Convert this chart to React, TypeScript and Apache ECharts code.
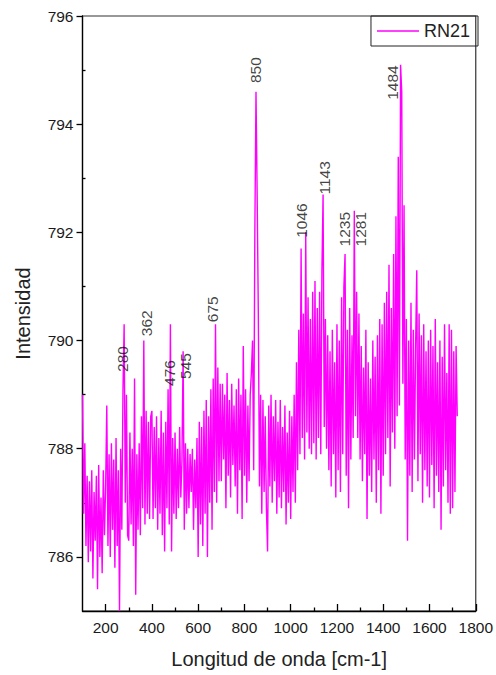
import React, { useEffect, useRef } from "react";
import * as echarts from "echarts";

const FONT = "'Liberation Sans', Arial, sans-serif";

// Raman shift grid: first point and sampling step [cm-1]
const X_START = 100;
const X_STEP = 5;

// Intensity, one row = 100 cm-1 (20 points)
const intensity: number[] = [
  // 100-195
  789.0, 786.8, 788.1, 786.2, 787.5, 785.9, 787.4, 786.1, 787.6, 785.6, 787.2, 786.3, 787.5, 785.4, 787.7, 786.0, 787.1, 785.7, 787.6, 786.4,
  // 200-295
  787.3, 788.8, 786.2, 787.9, 786.0, 788.1, 786.5, 787.8, 785.8, 788.2, 786.2, 787.6, 785.0, 788.0, 786.5, 789.1, 790.3, 787.0, 789.0, 786.4,
  // 300-395
  786.3, 788.3, 786.6, 788.0, 786.2, 789.3, 785.3, 787.9, 786.5, 788.1, 786.4, 788.6, 786.9, 790.0, 786.6, 788.7, 786.8, 788.5, 786.7, 788.6,
  // 400-495
  788.7, 786.7, 788.4, 786.9, 788.6, 786.5, 788.2, 786.8, 788.7, 786.4, 788.3, 786.1, 788.5, 786.9, 789.1, 786.6, 790.3, 786.1, 788.2, 786.8,
  // 500-595
  788.3, 786.7, 788.0, 786.9, 788.4, 787.1, 787.8, 789.8, 786.5, 788.1, 786.8, 788.0, 786.9, 787.9, 787.2, 788.0, 786.5, 787.8, 786.9, 788.2,
  // 600-695
  786.0, 788.5, 786.6, 788.4, 786.2, 788.7, 786.8, 788.9, 786.0, 788.6, 787.0, 789.1, 786.5, 789.3, 787.2, 790.3, 787.0, 789.5, 787.4, 789.2,
  // 700-795
  787.4, 789.2, 787.8, 789.0, 786.9, 789.4, 787.5, 788.9, 787.1, 789.2, 787.7, 788.8, 787.3, 789.1, 786.8, 789.3, 787.6, 789.0, 786.7, 789.9,
  // 800-895
  787.5, 789.1, 787.0, 788.8, 787.4, 789.0, 789.4, 790.0, 787.6, 792.0, 794.6, 792.7, 790.5, 787.3, 789.0, 786.8, 788.9, 787.2, 788.6, 786.9,
  // 900-995
  786.1, 788.8, 787.3, 789.0, 787.0, 788.6, 787.4, 788.9, 786.8, 788.5, 787.1, 788.9, 786.9, 788.4, 787.2, 788.8, 786.6, 788.3, 787.0, 788.7,
  // 1000-1095
  786.7, 788.6, 787.2, 789.0, 787.0, 789.6, 787.6, 790.2, 787.9, 791.7, 788.2, 790.5, 787.8, 792.0, 788.3, 790.8, 788.0, 790.4, 787.9, 790.9,
  // 1100-1195
  788.1, 791.1, 787.8, 790.6, 788.2, 790.9, 787.9, 791.3, 792.7, 788.4, 790.4, 788.0, 790.1, 787.6, 789.8, 787.3, 790.2, 787.9, 789.6, 787.1,
  // 1200-1295
  790.3, 787.6, 790.0, 787.2, 790.8, 787.9, 791.0, 791.6, 787.5, 790.2, 786.9, 790.6, 787.8, 790.1, 788.2, 792.4, 788.6, 790.9, 788.2, 790.5,
  // 1300-1395
  787.8, 789.9, 787.4, 789.5, 787.9, 790.2, 786.7, 789.6, 787.5, 789.3, 787.2, 790.0, 787.8, 789.7, 787.0, 790.1, 787.6, 790.4, 786.8, 790.3,
  // 1400-1495
  787.5, 790.7, 787.9, 790.9, 788.2, 791.4, 787.3, 790.6, 788.3, 791.6, 788.0, 792.3, 788.6, 793.4, 788.8, 795.1, 794.6, 789.2, 792.5, 787.8,
  // 1500-1595
  790.4, 786.3, 790.0, 787.5, 790.7, 787.2, 790.2, 787.8, 789.9, 791.3, 787.4, 790.5, 787.9, 790.1, 787.0, 790.3, 787.6, 789.8, 787.3, 790.0,
  // 1600-1695
  787.1, 790.2, 787.7, 789.9, 786.9, 790.4, 787.5, 789.6, 787.2, 790.0, 786.5, 789.7, 787.3, 790.3, 787.6, 789.4, 787.0, 790.3, 786.8, 790.2,
  // 1700-1720
  786.9, 789.8, 787.2, 789.9, 788.6,
];

const seriesName = "RN21";

// Peak annotations
const peakLabels = ["280", "362", "476", "545", "675", "850", "1046", "1143", "1235", "1281", "1484"];

// Tick values
const xTicks = [200, 400, 600, 800, 1000, 1200, 1400, 1600, 1800];
const xMinorTicks = [300, 500, 700, 900, 1100, 1300, 1500, 1700];
const yTicks = [786, 788, 790, 792, 794, 796];
const yMinorTicks = [787, 789, 791, 793, 795];

// Layout: anchor (x, y in data units) of the start of each rotated peak label
const labelAnchorX = [274, 375, 476, 544, 664, 847, 1048, 1144, 1232, 1301, 1440];
const labelAnchorY = [789.42, 790.08, 789.16, 789.29, 790.34, 794.76, 791.9, 792.7, 791.74, 791.74, 794.45];

export default function App() {
  const ref = useRef<HTMLDivElement>(null);

  useEffect(() => {
    if (!ref.current) return;
    const chart = echarts.init(ref.current, null, { renderer: "svg" });

    const lineData = intensity.map((v, i) => [X_START + i * X_STEP, v]);
    const labelData = peakLabels.map((t, i) => [labelAnchorX[i], labelAnchorY[i], t]);

    const tickFont = { fontSize: 15.5, fontFamily: FONT, color: "#1a1a1a" };

    chart.setOption({
      animation: false,
      grid: {
        left: 82.5,
        right: 18,
        top: 16,
        bottom: 64,
        show: true,
        borderColor: "#333",
        borderWidth: 1.2,
        backgroundColor: "transparent",
      },
      legend: {
        data: [{ name: seriesName, icon: "rect" }],
        right: 18,
        top: 16,
        padding: [6, 8, 6, 6],
        itemWidth: 42,
        itemHeight: 1.6,
        borderColor: "#222",
        borderWidth: 1,
        borderRadius: 0,
        itemStyle: { color: "#ff00ff" },
        textStyle: { fontSize: 18, fontFamily: FONT, color: "#222" },
      },
      xAxis: [
        {
          type: "value",
          min: 100,
          max: 1800,
          name: "Longitud de onda [cm-1]",
          nameLocation: "middle",
          nameGap: 38,
          nameTextStyle: { fontSize: 20, fontFamily: FONT, color: "#222" },
          axisLine: { show: true, onZero: false, lineStyle: { color: "#000", width: 1.3 } },
          axisTick: { show: true, inside: true, length: 7, customValues: xTicks, lineStyle: { color: "#000", width: 1.3 } },
          axisLabel: { ...tickFont, margin: 8, customValues: xTicks, formatter: (v: number) => String(v) },
          splitLine: { show: false },
        },
        {
          type: "value",
          min: 100,
          max: 1800,
          position: "bottom",
          axisLine: { show: false },
          axisLabel: { show: false },
          splitLine: { show: false },
          axisTick: { show: true, inside: true, length: 3.5, customValues: xMinorTicks, lineStyle: { color: "#000", width: 1.3 } },
        },
      ],
      yAxis: [
        {
          type: "value",
          min: 785,
          max: 796,
          name: "Intensidad",
          nameLocation: "middle",
          nameGap: 50,
          nameTextStyle: { fontSize: 20, fontFamily: FONT, color: "#222" },
          axisLine: { show: true, onZero: false, lineStyle: { color: "#000", width: 1.3 } },
          axisTick: { show: true, inside: false, length: 6, customValues: yTicks, lineStyle: { color: "#000", width: 1.3 } },
          axisLabel: { ...tickFont, margin: 9, customValues: yTicks, formatter: (v: number) => String(v) },
          splitLine: { show: false },
        },
        {
          type: "value",
          min: 785,
          max: 796,
          position: "left",
          axisLine: { show: false },
          axisLabel: { show: false },
          splitLine: { show: false },
          axisTick: { show: true, inside: true, length: 3, customValues: yMinorTicks, lineStyle: { color: "#000", width: 1.3 } },
        },
      ],
      series: [
        {
          name: seriesName,
          type: "line",
          xAxisIndex: 0,
          yAxisIndex: 0,
          data: lineData,
          symbol: "none",
          showSymbol: false,
          color: "#ff00ff",
          lineStyle: { color: "#ff00ff", width: 1.4 },
          z: 2,
        },
        {
          name: "peaks",
          type: "scatter",
          xAxisIndex: 0,
          yAxisIndex: 0,
          data: labelData,
          symbolSize: 0,
          silent: true,
          z: 3,
          label: {
            show: true,
            position: "inside",
            rotate: 90,
            align: "left",
            verticalAlign: "middle",
            formatter: (p: any) => p.value[2],
            fontSize: 15.5,
            fontFamily: FONT,
            color: "#111",
          },
        },
      ],
    });

    return () => chart.dispose();
  }, []);

  return (
    <div
      ref={ref}
      style={{ position: "fixed", left: 0, top: 0, width: 496, height: 675, background: "#fff" }}
    />
  );
}
